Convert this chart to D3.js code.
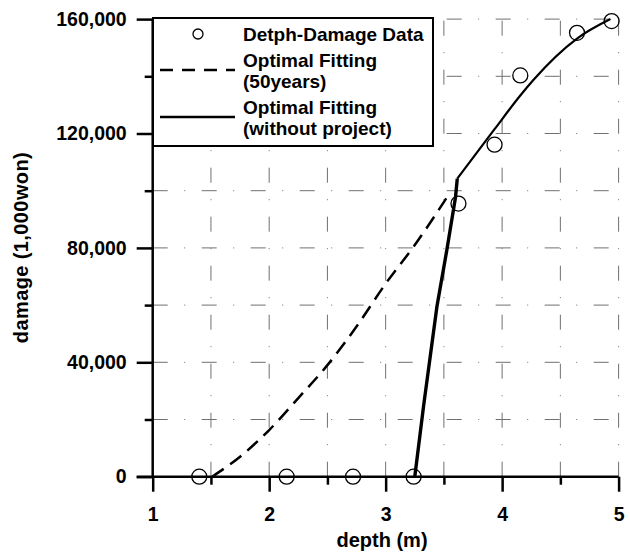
<!DOCTYPE html>
<html>
<head>
<meta charset="utf-8">
<script src="https://cdn.jsdelivr.net/npm/d3@7"></script>
<style>
  body { margin: 0; background: #fff; }
  svg text { font-family: "Liberation Sans", Arial, sans-serif; font-weight: bold; fill: #000; }
</style>
</head>
<body>
<svg id="chart" width="630" height="556"></svg>
<script>
// observed depth-damage points
const obsDepth = [1.40, 2.15, 2.72, 3.24, 3.625, 3.935, 4.156, 4.643, 4.94];
const obsDamage = [0, 0, 0, 0, 95500, 116100, 140300, 155200, 159300];

// fitted curve, 50 years
const fit50Depth = [1.51, 1.75, 2.0, 2.25, 2.5, 2.75, 3.0, 3.25, 3.555];
const fit50Damage = [0, 7000, 16300, 27500, 39000, 52500, 67500, 81000, 99500];

// fitted curve, without project (steep rise + upper curve)
const riseDepth = [3.25, 3.325, 3.44, 3.525, 3.6, 3.615];
const riseDamage = [0, 24500, 59400, 79200, 97800, 104200];
const upperDepth = [3.615, 3.935, 4.156, 4.27, 4.643, 4.93];
const upperDamage = [104200, 121500, 133300, 138800, 153200, 160000];

const xTicks = [1, 2, 3, 4, 5];
const xMinorTicks = [1.5, 2.5, 3.5, 4.5];
const yTicks = [0, 40000, 80000, 120000, 160000];
const yMinorTicks = [20000, 60000, 100000, 140000];
const xGrid = [1.5, 2, 2.5, 3, 3.5, 4, 4.5, 5];
const yGrid = [20000, 40000, 60000, 80000, 100000, 120000, 140000, 160000];

const legendItems = [
  { type: 'circle', lines: ['Detph-Damage Data'] },
  { type: 'dash', lines: ['Optimal Fitting', '(50years)'] },
  { type: 'solid', lines: ['Optimal Fitting', '(without project)'] }
];

const margin = { left: 152.7, top: 19.1, right: 11.4, bottom: 79.3 };
const width = 630 - margin.left - margin.right;
const height = 556 - margin.top - margin.bottom;

const svg = d3.select('#chart');
const g = svg.append('g').attr('transform', `translate(${margin.left},${margin.top})`);

const x = d3.scaleLinear().domain([1, 5]).range([0, width]);
const y = d3.scaleLinear().domain([0, 160000]).range([height, 0]);

// grid
const gridDash = '15,16.5,1,16.5';
g.append('g').selectAll('line').data(xGrid).enter().append('line')
  .attr('x1', d => x(d)).attr('x2', d => x(d))
  .attr('y1', height).attr('y2', 0)
  .attr('stroke', '#707070').attr('stroke-width', 1)
  .attr('stroke-dasharray', gridDash);
g.append('g').selectAll('line').data(yGrid).enter().append('line')
  .attr('x1', 0).attr('x2', width)
  .attr('y1', d => y(d)).attr('y2', d => y(d))
  .attr('stroke', '#707070').attr('stroke-width', 1)
  .attr('stroke-dasharray', gridDash);

// legend box
const legend = svg.append('g').attr('transform', 'translate(153,18)');
legend.append('rect')
  .attr('width', 280).attr('height', 128)
  .attr('fill', '#fff').attr('stroke', '#000').attr('stroke-width', 2);

const itemY = [16, 52, 99];
legendItems.forEach((item, i) => {
  const gy = itemY[i];
  if (item.type === 'circle') {
    legend.append('circle').attr('cx', 45).attr('cy', gy).attr('r', 5)
      .attr('fill', 'none').attr('stroke', '#000').attr('stroke-width', 1.3);
  } else {
    legend.append('line').attr('x1', 7).attr('x2', 82).attr('y1', gy).attr('y2', gy)
      .attr('stroke', '#000').attr('stroke-width', 2.5)
      .attr('stroke-dasharray', item.type === 'dash' ? '13,9' : null);
  }
  item.lines.forEach((t, j) => {
    legend.append('text')
      .attr('x', 90)
      .attr('y', (item.lines.length === 1 ? gy + 7 : gy - 3 + j * 21))
      .style('font-size', '19px')
      .text(t);
  });
});

// curves
const line = d3.line().x(d => x(d[0])).y(d => y(d[1])).curve(d3.curveMonotoneX);
g.append('path').datum(d3.zip(fit50Depth, fit50Damage))
  .attr('d', line).attr('fill', 'none').attr('stroke', '#000')
  .attr('stroke-width', 2.5).attr('stroke-dasharray', '14,8');
g.append('path').datum(d3.zip(riseDepth, riseDamage))
  .attr('d', d3.line().x(d => x(d[0])).y(d => y(d[1])))
  .attr('fill', 'none').attr('stroke', '#000').attr('stroke-width', 3.4);
g.append('path').datum(d3.zip(upperDepth, upperDamage))
  .attr('d', line).attr('fill', 'none').attr('stroke', '#000').attr('stroke-width', 2.2);

// axes
const styleAxis = sel => {
  sel.select('.domain').remove();
  sel.selectAll('line').attr('stroke', '#000').attr('stroke-width', 2.5);
  sel.selectAll('text').style('font-size', '19.5px');
};
g.append('g').attr('transform', `translate(0,${height})`)
  .call(d3.axisBottom(x).tickValues(xMinorTicks).tickSize(8).tickFormat(''))
  .call(styleAxis);
g.append('g').attr('transform', `translate(0,${height})`)
  .call(d3.axisBottom(x).tickValues(xTicks).tickSize(15).tickPadding(15).tickFormat(d3.format('d')))
  .call(styleAxis);
g.append('g')
  .call(d3.axisLeft(y).tickValues(yMinorTicks).tickSize(8).tickFormat(''))
  .call(styleAxis);
g.append('g')
  .call(d3.axisLeft(y).tickValues(yTicks).tickSize(16).tickPadding(10).tickFormat(d3.format(',')))
  .call(styleAxis);

// axis lines
g.append('line').attr('x1', 0).attr('x2', 0).attr('y1', 0).attr('y2', height)
  .attr('stroke', '#000').attr('stroke-width', 2.5);
g.append('line').attr('x1', -16).attr('x2', width).attr('y1', height).attr('y2', height)
  .attr('stroke', '#000').attr('stroke-width', 2.5);

// observed points
g.append('g').selectAll('circle').data(d3.zip(obsDepth, obsDamage)).enter().append('circle')
  .attr('cx', d => x(d[0])).attr('cy', d => y(d[1])).attr('r', 7.5)
  .attr('fill', 'none').attr('stroke', '#000').attr('stroke-width', 1.3);

// titles
svg.append('text').attr('x', 382).attr('y', 546.7)
  .attr('text-anchor', 'middle').style('font-size', '20px')
  .text('depth (m)');
svg.append('text').attr('transform', 'translate(28,247.5) rotate(-90)')
  .attr('text-anchor', 'middle').style('font-size', '20px').style('letter-spacing', '0.4px')
  .text('damage (1,000won)');
</script>
</body>
</html>
